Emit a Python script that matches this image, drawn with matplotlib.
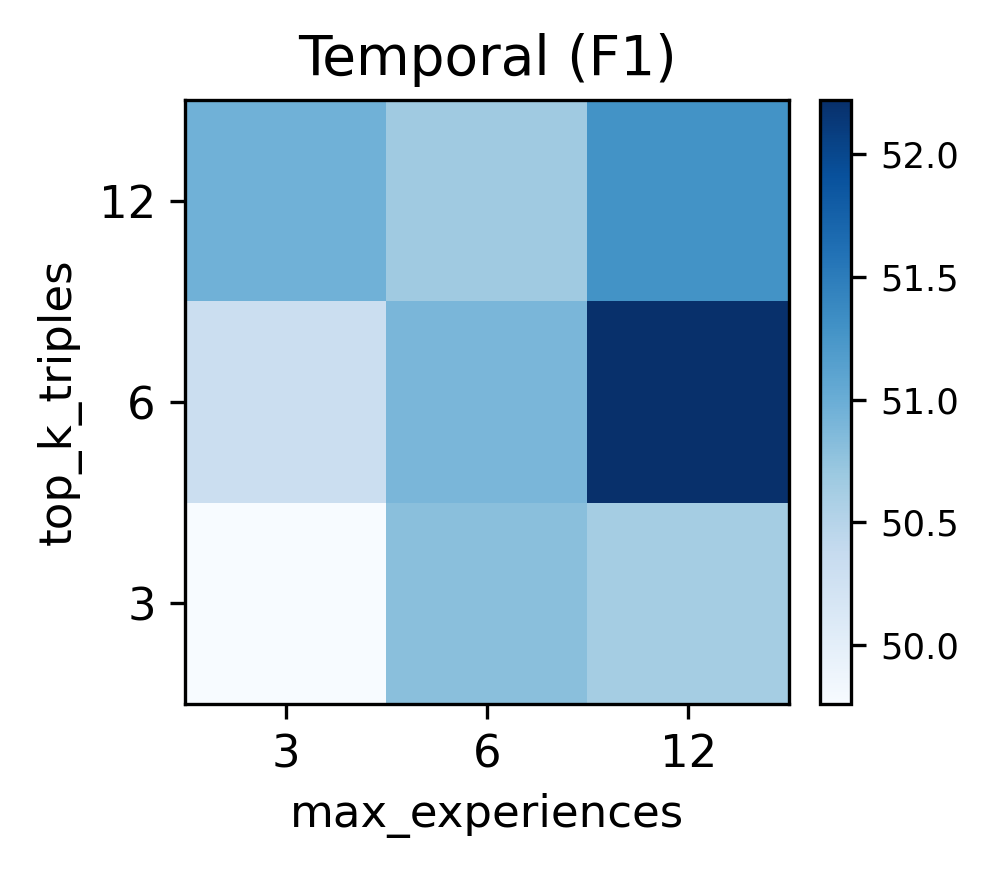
import matplotlib
matplotlib.use("Agg")
import matplotlib.pyplot as plt
import numpy as np

max_experiences = ["3", "6", "12"]
top_k_triples = ["3", "6", "12"]
# rows: top_k_triples 3, 6, 12 ; cols: max_experiences 3, 6, 12
f1 = np.array([
    [49.76, 50.80, 50.63],
    [50.30, 50.90, 52.22],
    [50.96, 50.67, 51.28],
])

fig = plt.figure(figsize=(997 / 300, 875 / 300), dpi=300)
ax = fig.add_axes([0.1856, 0.1954, 0.6058, 0.6903])
cax = fig.add_axes([0.8225, 0.1954, 0.0311, 0.6903])

im = ax.imshow(f1, cmap="Blues", origin="lower", aspect="auto")
ax.set_xticks(range(len(max_experiences)))
ax.set_xticklabels(max_experiences, fontsize=10.8)
ax.set_yticks(range(len(top_k_triples)))
ax.set_yticklabels(top_k_triples, fontsize=10.8)
ax.set_xlabel("max_experiences", fontsize=10.8)
ax.set_ylabel("top_k_triples", fontsize=10.8)
ax.set_title("Temporal (F1)", fontsize=13.2)

cb = fig.colorbar(im, cax=cax)
cb.set_ticks([50.0, 50.5, 51.0, 51.5, 52.0])
cb.ax.tick_params(labelsize=8.5)

fig.savefig("out.png", dpi=300)
